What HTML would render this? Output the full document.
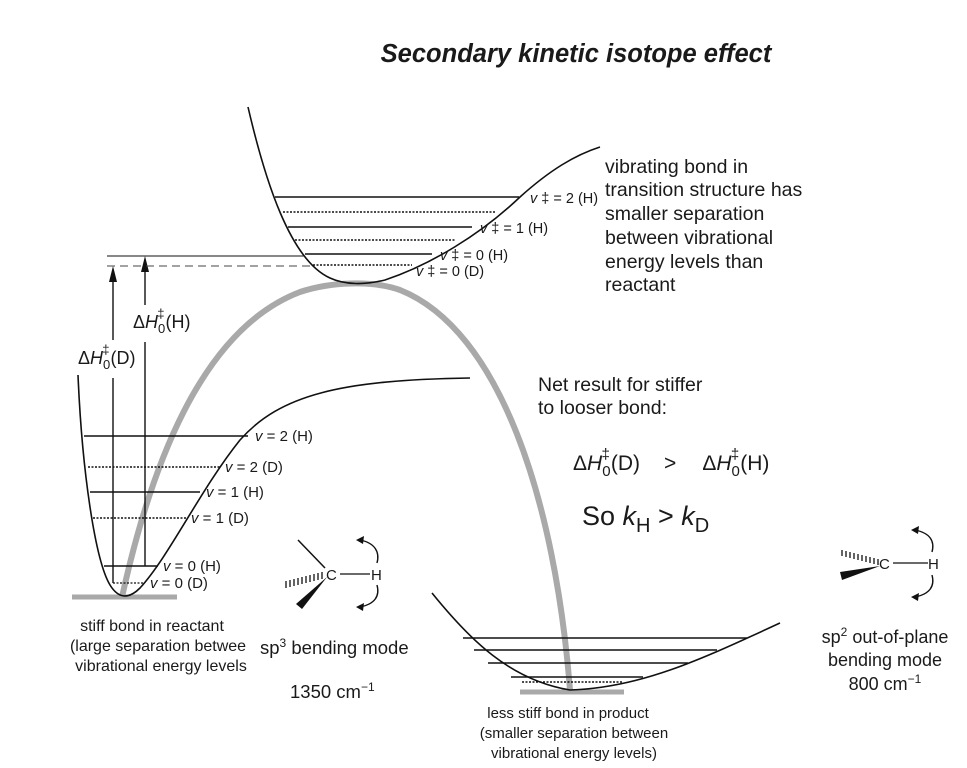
<!DOCTYPE html>
<html><head><meta charset="utf-8"><style>
html,body{margin:0;padding:0;background:#fff;}
svg{display:block;}
text{font-family:"Liberation Sans",Arial,sans-serif;fill:#1a1a1a;}
</style></head><body>
<svg width="967" height="768" viewBox="0 0 967 768" xmlns="http://www.w3.org/2000/svg">
<text x="576" y="62" text-anchor="middle" font-size="25.5" font-weight="bold" font-style="italic" fill="#000">Secondary kinetic isotope effect</text>

<path d="M122,597 C150,470 200,330 300,292 C330,282 372,280 400,290 C500,330 555,500 570,690" fill="none" stroke="#a9a9a9" stroke-width="6"/>
<line x1="72" y1="597" x2="177" y2="597" stroke="#a9a9a9" stroke-width="5"/>
<line x1="520" y1="692" x2="624" y2="692" stroke="#a9a9a9" stroke-width="5"/>

<path d="M78,375 C82,470 95,560 110,585 C118,598 128,600 140,588 C170,555 200,490 240,440 C280,395 340,380 470,378" fill="none" stroke="#111" stroke-width="1.6"/>
<g stroke="#111">
<line x1="84" y1="436" x2="248" y2="436" stroke-width="1.6"/>
<line x1="88" y1="467" x2="220" y2="467" stroke-width="1.4" stroke-dasharray="2,1.5"/>
<line x1="90" y1="492" x2="200" y2="492" stroke-width="1.6"/>
<line x1="93" y1="518" x2="186" y2="518" stroke-width="1.6" stroke-dasharray="2,1.5"/>
<line x1="104" y1="566" x2="158" y2="566" stroke-width="1.4"/>
<line x1="113" y1="583" x2="143" y2="583" stroke-width="1.2" stroke-dasharray="2,1.5"/>
</g>
<g font-size="15">
<text x="255" y="441"><tspan font-style="italic">v</tspan> = 2 (H)</text>
<text x="225" y="472"><tspan font-style="italic">v</tspan> = 2 (D)</text>
<text x="206" y="497"><tspan font-style="italic">v</tspan> = 1 (H)</text>
<text x="191" y="523"><tspan font-style="italic">v</tspan> = 1 (D)</text>
<text x="163" y="571"><tspan font-style="italic">v</tspan> = 0 (H)</text>
<text x="150" y="588"><tspan font-style="italic">v</tspan> = 0 (D)</text>
</g>

<line x1="113" y1="583" x2="113" y2="378" stroke="#111" stroke-width="1.4"/>
<line x1="113" y1="340" x2="113" y2="278" stroke="#111" stroke-width="1.4"/>
<polygon points="113,266 109,282 117,282" fill="#111"/>
<line x1="145" y1="566" x2="145" y2="342" stroke="#111" stroke-width="1.4"/>
<line x1="145" y1="305" x2="145" y2="268" stroke="#111" stroke-width="1.4"/>
<polygon points="145,256 141,272 149,272" fill="#111"/>
<line x1="107" y1="256" x2="305" y2="256" stroke="#111" stroke-width="1"/>
<line x1="107" y1="266" x2="312" y2="266" stroke="#444" stroke-width="1" stroke-dasharray="8,5"/>
<text font-size="18" x="133" y="328">Δ<tspan font-style="italic">H</tspan><tspan font-size="13" dy="5">0</tspan><tspan font-size="13" dx="-8" dy="-15">‡</tspan><tspan dx="1" dy="10">(H)</tspan></text>
<text font-size="18" x="78" y="364">Δ<tspan font-style="italic">H</tspan><tspan font-size="13" dy="5">0</tspan><tspan font-size="13" dx="-8" dy="-15">‡</tspan><tspan dx="1" dy="10">(D)</tspan></text>

<path d="M248,107 C265,180 290,260 330,278 C345,285 365,285 385,280 C430,265 480,235 520,197 C550,170 575,155 600,147" fill="none" stroke="#111" stroke-width="1.6"/>
<g stroke="#111">
<line x1="275" y1="197" x2="519" y2="197" stroke-width="1.6"/>
<line x1="283" y1="212" x2="496" y2="212" stroke-width="1.4" stroke-dasharray="2,1.5"/>
<line x1="288" y1="227" x2="472" y2="227" stroke-width="1.6"/>
<line x1="295" y1="240" x2="455" y2="240" stroke-width="1.4" stroke-dasharray="2,1.5"/>
<line x1="305" y1="254" x2="432" y2="254" stroke-width="1.6"/>
<line x1="313" y1="265" x2="412" y2="265" stroke-width="1.4" stroke-dasharray="2,1.5"/>
</g>
<g font-size="14.5">
<text x="530" y="203"><tspan font-style="italic">v</tspan> ‡ = 2 (H)</text>
<text x="480" y="233"><tspan font-style="italic">v</tspan> ‡ = 1 (H)</text>
<text x="440" y="260"><tspan font-style="italic">v</tspan> ‡ = 0 (H)</text>
<text x="416" y="276"><tspan font-style="italic">v</tspan> ‡ = 0 (D)</text>
</g>

<g font-size="19.5">
<text x="605" y="173">vibrating bond in</text>
<text x="605" y="196">transition structure has</text>
<text x="605" y="220">smaller separation</text>
<text x="605" y="244">between vibrational</text>
<text x="605" y="268">energy levels than</text>
<text x="605" y="291">reactant</text>
<text x="538" y="391">Net result for stiffer</text>
<text x="538" y="414">to looser bond:</text>
</g>
<text font-size="21" x="573" y="470">Δ<tspan font-style="italic">H</tspan><tspan font-size="15" dy="6">0</tspan><tspan font-size="15" dx="-9" dy="-17">‡</tspan><tspan dx="1" dy="11">(D)</tspan><tspan dx="24">&gt;</tspan><tspan dx="26">Δ</tspan><tspan font-style="italic">H</tspan><tspan font-size="15" dy="6">0</tspan><tspan font-size="15" dx="-9" dy="-17">‡</tspan><tspan dx="1" dy="11">(H)</tspan></text>
<text font-size="27" x="582" y="525">So <tspan font-style="italic">k</tspan><tspan font-size="20" dy="7">H</tspan><tspan dy="-7"> &gt; </tspan><tspan font-style="italic">k</tspan><tspan font-size="20" dy="7">D</tspan></text>

<path d="M432,593 C470,640 510,680 570,690 C640,688 700,660 780,623" fill="none" stroke="#111" stroke-width="1.6"/>
<g stroke="#111" stroke-width="1.5">
<line x1="463" y1="638" x2="747" y2="638"/>
<line x1="474" y1="650" x2="717" y2="650"/>
<line x1="488" y1="663" x2="688" y2="663"/>
<line x1="511" y1="677" x2="643" y2="677"/>
<line x1="522" y1="682" x2="622" y2="682" stroke-dasharray="2,1.5"/>
</g>

<line x1="298" y1="540" x2="325" y2="568" stroke="#111" stroke-width="1.5"/>
<g stroke="#111" stroke-width="1.3">
<line x1="286" y1="581" x2="286" y2="588"/><line x1="290" y1="580" x2="290" y2="587"/><line x1="294" y1="579" x2="294" y2="586"/><line x1="298" y1="578" x2="298" y2="585"/><line x1="302" y1="577" x2="302" y2="584"/><line x1="306" y1="576" x2="306" y2="583"/><line x1="310" y1="575" x2="310" y2="582"/><line x1="314" y1="574" x2="314" y2="581"/><line x1="318" y1="573" x2="318" y2="580"/><line x1="322" y1="572" x2="322" y2="579"/>
</g>
<polygon points="296,604 302,609 327,577" fill="#111"/>
<text font-size="15" x="326" y="580">C</text>
<line x1="340" y1="574" x2="370" y2="574" stroke="#111" stroke-width="1.3"/>
<text font-size="15" x="371" y="580">H</text>
<path d="M377,563 C380,552 375,543 360,540" fill="none" stroke="#111" stroke-width="1.4"/>
<polygon points="356,540 364,536 363,544" fill="#111"/>
<path d="M377,585 C380,596 375,604 360,607" fill="none" stroke="#111" stroke-width="1.4"/>
<polygon points="356,607 364,603 363,611" fill="#111"/>
<text font-size="18.5" x="260" y="654">sp<tspan font-size="12" dy="-7">3</tspan><tspan dy="7"> bending mode</tspan></text>
<text font-size="18.5" x="290" y="698">1350 cm<tspan font-size="12" dy="-7">−1</tspan></text>

<g stroke="#111" stroke-width="1.3">
<line x1="842" y1="550" x2="842" y2="556"/><line x1="846" y1="551" x2="846" y2="557"/><line x1="850" y1="552" x2="850" y2="558"/><line x1="854" y1="553" x2="854" y2="559"/><line x1="858" y1="554" x2="858" y2="560"/><line x1="862" y1="555" x2="862" y2="561"/><line x1="866" y1="556" x2="866" y2="562"/><line x1="870" y1="557" x2="870" y2="563"/><line x1="874" y1="558" x2="874" y2="564"/><line x1="878" y1="559" x2="878" y2="565"/>
</g>
<polygon points="840,572 842,580 880,566" fill="#111"/>
<text font-size="15" x="879" y="569">C</text>
<line x1="893" y1="563" x2="928" y2="563" stroke="#111" stroke-width="1.3"/>
<text font-size="15" x="928" y="569">H</text>
<path d="M932,552 C935,541 930,533 915,530" fill="none" stroke="#111" stroke-width="1.4"/>
<polygon points="911,530 919,526 918,534" fill="#111"/>
<path d="M932,575 C935,586 930,594 915,597" fill="none" stroke="#111" stroke-width="1.4"/>
<polygon points="911,597 919,593 918,601" fill="#111"/>
<g font-size="18" text-anchor="middle">
<text x="885" y="643">sp<tspan font-size="12" dy="-7">2</tspan><tspan dy="7"> out-of-plane</tspan></text>
<text x="885" y="666">bending mode</text>
<text x="885" y="690">800 cm<tspan font-size="12" dy="-7">−1</tspan></text>
</g>

<g font-size="16" text-anchor="middle">
<text x="152" y="631">stiff bond in reactant</text>
<text x="158" y="651">(large separation betwee</text>
<text x="161" y="671">vibrational energy levels</text>
</g>
<g font-size="15" text-anchor="middle">
<text x="568" y="718">less stiff bond in product</text>
<text x="574" y="738">(smaller separation between</text>
<text x="574" y="758">vibrational energy levels)</text>
</g>
</svg>
</body></html>
